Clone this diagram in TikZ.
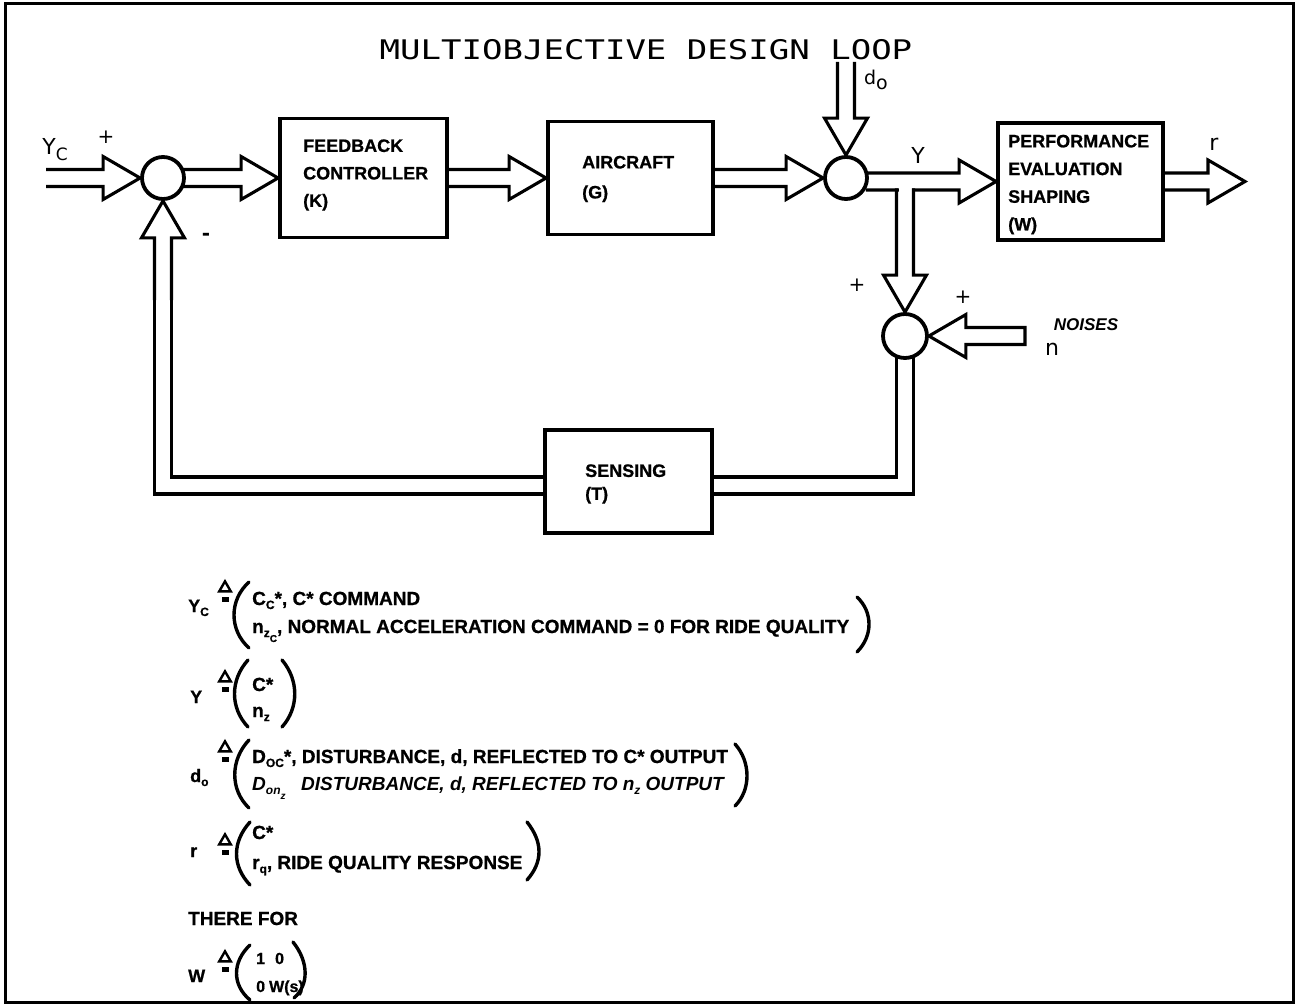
\documentclass[tikz,border=0pt]{standalone}
\usepackage{fontspec}
\usepackage{graphicx}
\setmainfont[BoldFeatures={FakeBold=0.8}]{Liberation Sans}
\newfontfamily\twfont{DejaVu Sans Mono}
\newfontfamily\labfont{DejaVu Sans}
\usetikzlibrary{calc,backgrounds,shapes.geometric}
\newcommand\sbs[1]{\raisebox{-4pt}{\fontsize{12}{12}\selectfont #1}}
\newcommand\ssbs[1]{\raisebox{-9pt}{\fontsize{10}{10}\selectfont #1}}
\newcommand\AL{37pt}
\newcommand\AW{8.5pt}
\newcommand\AH{21.5pt}
\newcommand\harrow[2]{%
  \coordinate (hb) at ($(#2)!\AL!(#1)$);
  \draw[arrline] ($(#1)!\AW!90:(#2)$) -- ($(hb)!\AW!90:(#2)$) -- ($(hb)!\AH!90:(#2)$) -- (#2) -- ($(hb)!\AH!-90:(#2)$) -- ($(hb)!\AW!-90:(#2)$) -- ($(#1)!\AW!-90:(#2)$);}
\newcommand\harrowclosed[2]{%
  \coordinate (hb) at ($(#2)!\AL!(#1)$);
  \draw[arrline] ($(#1)!\AW!90:(#2)$) -- ($(hb)!\AW!90:(#2)$) -- ($(hb)!\AH!90:(#2)$) -- (#2) -- ($(hb)!\AH!-90:(#2)$) -- ($(hb)!\AW!-90:(#2)$) -- ($(#1)!\AW!-90:(#2)$) -- cycle;}
\begin{document}
\begin{tikzpicture}[x=1pt,y=-1pt,
  arrline/.style={line width=3.1pt, line join=miter, miter limit=10},
  dbl/.style={double, line width=3.1pt, double distance=13.9pt},
  sumc/.style={circle, draw, line width=3.8pt, minimum size=42pt, inner sep=0pt, fill=white},
  blk/.style={draw, line width=3.8pt, fill=white, inner sep=0pt},
  btxt/.style={font=\fontsize{18}{27.5}\selectfont\bfseries, align=left, inner sep=0pt, anchor=west},
  lbl/.style={font=\labfont\fontsize{22}{22}\selectfont, inner sep=0pt},
  plus/.style={font=\labfont\fontsize{20}{20}\selectfont, inner sep=0pt},
  eqt/.style={font=\fontsize{19}{19}\selectfont\bfseries, inner sep=0pt, anchor=base west},
  eqit/.style={font=\fontsize{19}{19}\selectfont\bfseries\itshape, inner sep=0pt, anchor=base west},
  eqm/.style={font=\fontsize{16}{16}\selectfont\bfseries, inner sep=0pt, anchor=base west},
  eqlab/.style={font=\fontsize{18}{18}\selectfont\bfseries, inner sep=0pt, anchor=base west},
  dtri/.style={draw, line width=2.4pt, line join=miter, isosceles triangle, isosceles triangle apex angle=60, shape border rotate=90, minimum height=10pt, inner sep=0pt},
  deqs/.style={fill=black, minimum width=7pt, minimum height=5pt, inner sep=0pt},
  paren/.style={line width=3.4pt, line cap=round}]

\useasboundingbox (0,0) rectangle (1298,1006);
\draw[line width=3pt] (5,4) rectangle (1293,1002);

\node (title) at (646,50) {\twfont\fontsize{27}{27}\selectfont\scalebox{1.26}[1]{MULTIOBJECTIVE DESIGN LOOP}};

% blocks and summing junctions
\node[sumc] (sum1) at (163,178) {};
\node[blk, minimum width=167pt, minimum height=119pt] (fb) at (363.5,178) {};
\node[blk, minimum width=165pt, minimum height=113pt] (ac) at (630.5,178) {};
\node[sumc] (sum2) at (846,178) {};
\node[blk, minimum width=165pt, minimum height=117pt] (perf) at (1080.5,181.5) {};
\node[sumc, minimum size=44pt] (sum3) at (905,336) {};
\node[blk, minimum width=167pt, minimum height=103pt] (sens) at (628.5,481.5) {};

\node[btxt] (fbt) at (303,175) {FEEDBACK\\CONTROLLER\\(K)};
\node[btxt, font=\fontsize{18}{30}\selectfont\bfseries] (act) at (582,179) {AIRCRAFT\\(G)};
\node[btxt, font=\fontsize{18}{27.7}\selectfont\bfseries] (perft) at (1008,184.5) {PERFORMANCE\\EVALUATION\\SHAPING\\(W)};
\node[btxt, font=\fontsize{18}{23}\selectfont\bfseries] (senst) at (585,484) {SENSING\\(T)};

% free ends
\coordinate (yin) at (46,178);
\coordinate (din) at (846,62);
\coordinate (rout) at (1245,181.5);
\coordinate (nin) at (1025,336);
\coordinate (jn) at (905,188.4);
\coordinate (fbc) at (163,300);
\coordinate (s1o) at ($(sum1.east)+(-3,0)$);
\coordinate (s2o) at ($(sum2.east)+(-3,3.5)$);
\coordinate (s3o) at ($(sum3.south)+(0,-3)$);

\begin{pgfonlayer}{background}
\harrow{yin}{sum1.west}
\harrow{s1o}{fb.west}
\harrow{fb.east}{ac.west}
\harrow{ac.east}{sum2.west}
\harrow{s2o}{perf.west}
\harrow{perf.east}{rout}
\harrow{din}{sum2.north}
\fill[white] (898.5,187.5) rectangle (911.5,193);
\harrow{jn}{sum3.north}
\harrowclosed{nin}{sum3.east}
\draw[dbl] (s3o) |- ($(sens.east)+(0,4)$);
\draw[dbl] ($(sens.west)+(0,4)$) -| (fbc);
\harrow{fbc}{sum1.south}
\end{pgfonlayer}

% signal labels
\node[lbl] (yc) at (55,150) {Y\raisebox{-6pt}{\fontsize{17}{17}\selectfont C}};
\node[plus] (p1) at (106,137) {+};
\node[plus, font=\labfont\bfseries\fontsize{20}{20}\selectfont] (m1) at (206,237) {-};
\node[lbl, font=\labfont\fontsize{19}{19}\selectfont] (dol) at (876,80) {d\raisebox{-5pt}{o}};
\node[lbl] (yl) at (918,155) {Y};
\node[lbl] (rl) at (1214,144) {r};
\node[plus] (p2) at (857,285) {+};
\node[plus] (p3) at (963,297) {+};
\node[font=\fontsize{17}{17}\selectfont\bfseries\itshape, inner sep=0pt] (noi) at (1086,325) {NOISES};
\node[lbl] (nl) at (1052,349) {n};

% equations
\node[eqlab] (l1) at (188,612) {Y\sbs{C}};
\node[dtri] (t1) at (225,588) {};
\node[deqs] (q1) at (225,599) {};
\node[eqt] (e1a) at (252,605) {C\sbs{C}*, C* COMMAND};
\node[eqt] (e1b) at (252,633) {n\sbs{z}\ssbs{C}, NORMAL ACCELERATION COMMAND = 0 FOR RIDE QUALITY};
\draw[paren] (249,582) .. controls (229,600) and (229,630) .. (249,648);
\draw[paren] (857,597) .. controls (873,612) and (873,636) .. (857,652);

\node[eqlab] (l2) at (190,703) {Y};
\node[dtri] (t2) at (225,678) {};
\node[deqs] (q2) at (225,689) {};
\node[eqt] (e2a) at (252,691) {C*};
\node[eqt] (e2b) at (252,717) {n\sbs{z}};
\draw[paren] (248,660) .. controls (230,680) and (230,708) .. (248,727);
\draw[paren] (282,660) .. controls (299,680) and (299,708) .. (282,727);

\node[eqlab] (l3) at (190,782) {d\sbs{o}};
\node[dtri] (t3) at (225,748) {};
\node[deqs] (q3) at (225,759) {};
\node[eqt] (e3a) at (252,763) {D\sbs{OC}*, DISTURBANCE, d, REFLECTED TO C* OUTPUT};
\node[eqit] (e3b) at (252,790) {D\sbs{on}\ssbs{z}};
\node[eqit] (e3c) at (301,790) {DISTURBANCE, d, REFLECTED TO n\sbs{z} OUTPUT};
\draw[paren] (249,740) .. controls (230,760) and (230,790) .. (249,808);
\draw[paren] (735,744) .. controls (751,762) and (751,790) .. (735,806);

\node[eqlab] (l4) at (190,857) {r};
\node[dtri] (t4) at (225,841) {};
\node[deqs] (q4) at (225,852) {};
\node[eqt] (e4a) at (252,839) {C*};
\node[eqt] (e4b) at (252,869) {r\sbs{q}, RIDE QUALITY RESPONSE};
\draw[paren] (250,822) .. controls (232,842) and (232,866) .. (250,885);
\draw[paren] (527,822) .. controls (543,842) and (543,862) .. (527,880);

\node[eqt] (tf) at (188,925) {THERE FOR};

\node[eqlab] (l6) at (188,982) {W};
\node[dtri] (t6) at (225,958) {};
\node[deqs] (q6) at (225,969) {};
\node[eqm] (e6a) at (256,964) {1\hspace{10pt}0};
\node[eqm] (e6b) at (256,992) {0\hspace{4pt}W(s)};
\draw[paren] (250,945) .. controls (232,962) and (232,985) .. (250,1000);
\draw[paren] (293,942) .. controls (309,962) and (309,985) .. (294,998);
\end{tikzpicture}
\end{document}
